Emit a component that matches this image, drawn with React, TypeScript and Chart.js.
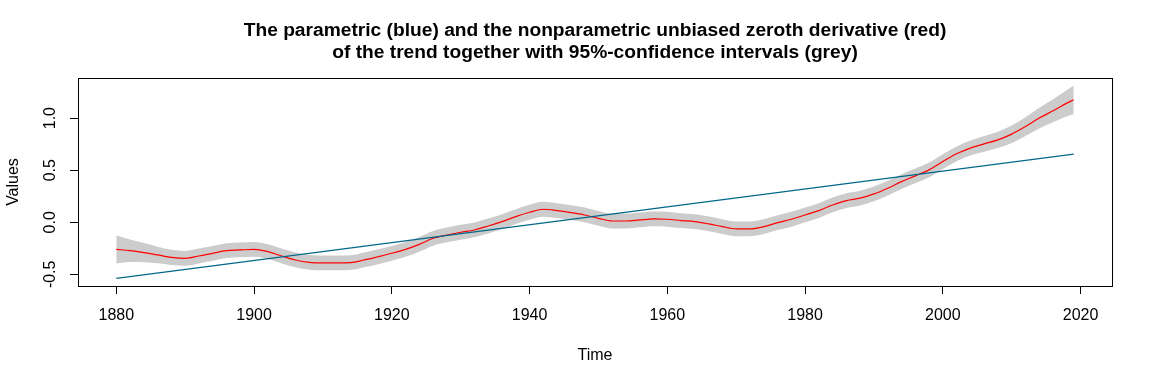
import React, { useEffect, useRef } from "react";
import { Chart, registerables } from "chart.js";

Chart.register(...registerables);

const titleLines = [
  "The parametric (blue) and the nonparametric unbiased zeroth derivative (red)",
  "of the trend together with 95%-confidence intervals (grey)",
];
const xTitle = "Time";
const yTitle = "Values";

const xTickValues = [1880, 1900, 1920, 1940, 1960, 1980, 2000, 2020];
const yTickValues = [-0.5, 0, 0.5, 1.0];
const yTickLabels = ["-0.5", "0.0", "0.5", "1.0"];

const years = [
  1880, 1882, 1884, 1886, 1888, 1890, 1892, 1894, 1896, 1898,
  1900, 1902, 1904, 1906, 1908, 1910, 1912, 1914, 1916, 1918,
  1920, 1922, 1924, 1926, 1928, 1930, 1932, 1934, 1936, 1938,
  1940, 1942, 1944, 1946, 1948, 1950, 1952, 1954, 1956, 1958,
  1960, 1962, 1964, 1966, 1968, 1970, 1972, 1974, 1976, 1978,
  1980, 1982, 1984, 1986, 1988, 1990, 1992, 1994, 1996, 1998,
  2000, 2002, 2004, 2006, 2008, 2010, 2012, 2014, 2016, 2018,
  2019,
];

const npTrend = [
  -0.260, -0.273, -0.292, -0.314, -0.337, -0.346, -0.324, -0.298, -0.273, -0.266,
  -0.260, -0.282, -0.324, -0.362, -0.385, -0.390, -0.390, -0.388, -0.362, -0.331,
  -0.298, -0.260, -0.212, -0.154, -0.122, -0.096, -0.074, -0.036, 0.006, 0.054,
  0.096, 0.125, 0.112, 0.093, 0.070, 0.038, 0.012, 0.012, 0.022, 0.032,
  0.029, 0.016, 0.006, -0.016, -0.042, -0.064, -0.064, -0.042, -0.004, 0.029,
  0.070, 0.112, 0.166, 0.208, 0.231, 0.272, 0.327, 0.390, 0.445, 0.503,
  0.583, 0.657, 0.712, 0.753, 0.791, 0.846, 0.919, 1.000, 1.070, 1.144,
  1.176,
];

const ciHalfWidth = [
  0.136, 0.108, 0.092, 0.080, 0.073, 0.071, 0.071, 0.071, 0.071, 0.071,
  0.071, 0.071, 0.071, 0.071, 0.071, 0.071, 0.071, 0.071, 0.071, 0.071,
  0.071, 0.071, 0.071, 0.071, 0.071, 0.071, 0.071, 0.071, 0.071, 0.071,
  0.071, 0.071, 0.071, 0.071, 0.071, 0.071, 0.071, 0.071, 0.071, 0.071,
  0.071, 0.071, 0.071, 0.071, 0.071, 0.071, 0.071, 0.071, 0.071, 0.071,
  0.071, 0.071, 0.071, 0.071, 0.071, 0.071, 0.071, 0.071, 0.071, 0.071,
  0.071, 0.071, 0.072, 0.075, 0.079, 0.084, 0.090, 0.099, 0.110, 0.126,
  0.138,
];

const paramYears = [1880, 2019];
const paramTrend = [-0.538, 0.654];

const X_MIN = 1874.44;
const X_MAX = 2024.56;
const Y_MIN = -0.612;
const Y_MAX = 1.385;

const FONT = "'Liberation Sans', Arial, sans-serif";

const rDecor = {
  id: "rDecor",
  afterDraw(chart: any) {
    const { ctx, chartArea } = chart;
    const l = Math.round(chartArea.left) + 0.5;
    const t = Math.round(chartArea.top) + 0.5;
    const r = Math.round(chartArea.right) + 0.5;
    const b = Math.round(chartArea.bottom) + 0.5;
    ctx.save();
    ctx.strokeStyle = "#000";
    ctx.lineWidth = 1;
    ctx.strokeRect(l, t, r - l, b - t);
    const cx = (chartArea.left + chartArea.right) / 2;
    const cy = (chartArea.top + chartArea.bottom) / 2;
    ctx.fillStyle = "#000";
    ctx.textAlign = "center";
    ctx.textBaseline = "alphabetic";
    ctx.font = `bold 19.2px ${FONT}`;
    ctx.fillText(titleLines[0], cx, 36);
    ctx.fillText(titleLines[1], cx, 58);
    ctx.font = `16px ${FONT}`;
    ctx.fillText(xTitle, cx, 360);
    ctx.translate(18, cy);
    ctx.rotate(-Math.PI / 2);
    ctx.fillText(yTitle, 0, 0);
    ctx.restore();
  },
};

export default function App() {
  const ref = useRef<HTMLCanvasElement | null>(null);

  useEffect(() => {
    if (!ref.current) return;
    const upper = years.map((x, i) => ({ x, y: npTrend[i] + ciHalfWidth[i] }));
    const lower = years.map((x, i) => ({ x, y: npTrend[i] - ciHalfWidth[i] }));
    const red = years.map((x, i) => ({ x, y: npTrend[i] }));
    const blue = paramYears.map((x, i) => ({ x, y: paramTrend[i] }));

    const chart = new Chart(ref.current, {
      type: "line",
      data: {
        datasets: [
          {
            label: "parametric",
            data: blue,
            borderColor: "#00688B",
            borderWidth: 1.2,
            pointRadius: 0,
            fill: false,
            tension: 0,
          },
          {
            label: "nonparametric",
            data: red,
            borderColor: "#FF0000",
            borderWidth: 1.2,
            pointRadius: 0,
            fill: false,
            cubicInterpolationMode: "monotone",
          },
          {
            label: "upper",
            data: upper,
            borderWidth: 0,
            borderColor: "rgba(0,0,0,0)",
            backgroundColor: "#CCCCCC",
            pointRadius: 0,
            fill: "+1",
            cubicInterpolationMode: "monotone",
          },
          {
            label: "lower",
            data: lower,
            borderWidth: 0,
            borderColor: "rgba(0,0,0,0)",
            backgroundColor: "#CCCCCC",
            pointRadius: 0,
            fill: false,
            cubicInterpolationMode: "monotone",
          },
        ],
      },
      options: {
        responsive: false,
        animation: false,
        layout: { padding: { left: 0, right: 40, top: 78, bottom: 0 } },
        plugins: {
          legend: { display: false },
          tooltip: { enabled: false },
          title: { display: false },
        },
        scales: {
          x: {
            type: "linear",
            min: X_MIN,
            max: X_MAX,
            afterBuildTicks: (scale: any) => {
              scale.ticks = xTickValues.map((v) => ({ value: v }));
            },
            afterFit: (scale: any) => {
              scale.height = 98;
            },
            border: { display: false },
            grid: {
              drawOnChartArea: false,
              drawTicks: true,
              tickLength: 8,
              color: "#000",
              lineWidth: 1,
            },
            ticks: {
              color: "#000",
              font: { family: FONT, size: 16 },
              padding: 12,
              maxRotation: 0,
              autoSkip: false,
              callback: (v: any) => String(v),
            },
          },
          y: {
            type: "linear",
            min: Y_MIN,
            max: Y_MAX,
            afterBuildTicks: (scale: any) => {
              scale.ticks = yTickValues.map((v) => ({ value: v }));
            },
            afterFit: (scale: any) => {
              scale.width = 78;
            },
            border: { display: false },
            grid: {
              drawOnChartArea: false,
              drawTicks: true,
              tickLength: 8,
              color: "#000",
              lineWidth: 1,
            },
            ticks: {
              color: "#000",
              font: { family: FONT, size: 16 },
              padding: 6,
              minRotation: 90,
              maxRotation: 90,
              crossAlign: "center",
              autoSkip: false,
              callback: (v: any) => {
                const i = yTickValues.findIndex((t) => Math.abs(t - v) < 1e-9);
                return i >= 0 ? yTickLabels[i] : "";
              },
            },
          },
        },
      },
      plugins: [rDecor],
    });
    return () => chart.destroy();
  }, []);

  return (
    <div style={{ position: "absolute", left: 0, top: 0, width: 1152, height: 384, background: "#fff" }}>
      <canvas ref={ref} width={1152} height={384} style={{ display: "block" }} />
    </div>
  );
}
